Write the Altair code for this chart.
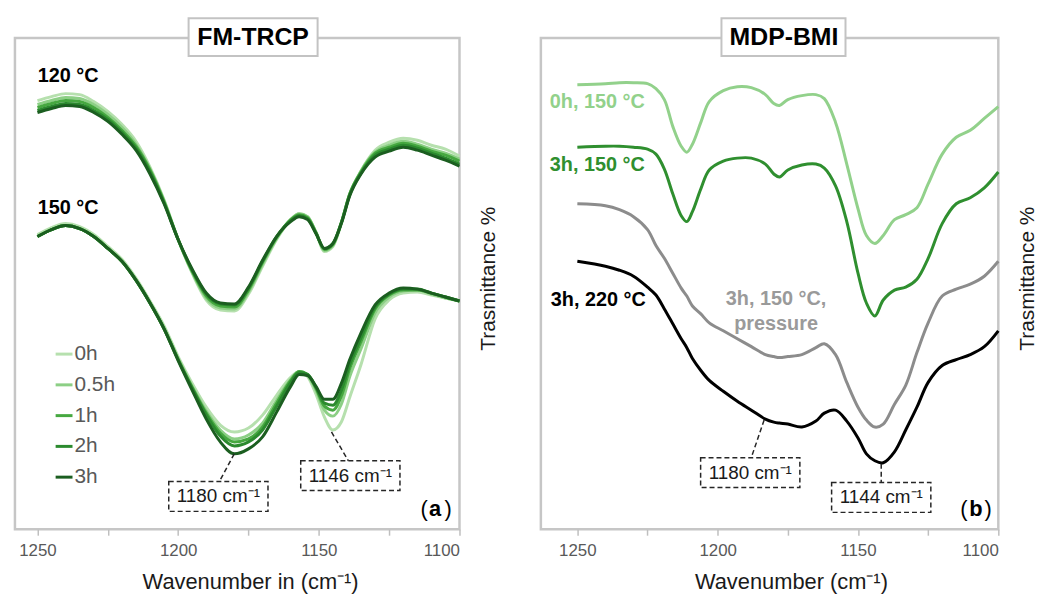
import altair as alt
import pandas as pd

FONT = "Liberation Sans"

# ---------------- panel (a) FM-TRCP ----------------
TIMES = ["0h", "0.5h", "1h", "2h", "3h"]
TIME_COLORS = ["#b6e0ae", "#8ccf85", "#46a840", "#2b8a2e", "#1b5e20"]

WN_A = [1250, 1245, 1240, 1235, 1230, 1225, 1220, 1215, 1210, 1205,
        1200, 1195, 1190, 1185, 1180, 1175, 1170, 1165, 1160, 1157,
        1154, 1151, 1148, 1145, 1142, 1139, 1135, 1130, 1125, 1120,
        1115, 1110, 1105, 1100]

T120_0H = [432, 436, 439, 438, 431, 421, 408, 391, 365, 332, 292, 258, 231, 221, 220, 237, 265, 292, 312, 318,
           315, 299, 280, 285, 308, 337, 361, 382, 390, 394, 392, 387, 383, 376]
T120_05H = [428, 432, 435, 434, 428, 418, 405, 388, 363, 331, 292, 259, 233, 223, 222, 239, 267, 293, 312, 318,
            315, 299, 281, 286, 309, 338, 361, 380, 387, 391, 388, 383, 379, 373]
T120_1H = [425, 429, 432, 431, 425, 415, 402, 386, 362, 330, 292, 260, 235, 225, 224, 241, 269, 294, 312, 317,
           314, 299, 282, 287, 309, 338, 360, 379, 385, 389, 386, 381, 377, 371]
T120_2H = [422, 426, 429, 428, 422, 413, 400, 384, 360, 329, 292, 261, 237, 227, 226, 243, 270, 295, 311, 316,
           313, 298, 283, 288, 309, 337, 359, 377, 383, 387, 384, 379, 374, 368]
T120_3H = [420, 424, 427, 426, 420, 411, 398, 382, 358, 328, 292, 262, 238, 228, 227, 244, 271, 295, 310, 315,
           312, 298, 283, 288, 308, 336, 358, 375, 381, 385, 382, 377, 372, 366]

T150_0H = [297, 304, 308, 305, 297, 285, 272, 253, 230, 205, 174, 147, 123, 105, 98, 102, 115, 135, 153, 159,
           154, 136, 113, 100, 108, 133, 166, 212, 231, 238, 239, 236, 233, 230]
T150_05H = [295, 302, 306, 303, 295, 283, 270, 251, 228, 203, 172, 144, 119, 100, 91, 95, 107, 130, 151, 159,
            155, 140, 120, 114, 126, 154, 182, 218, 234, 240, 241, 237, 233, 230]
T150_1H = [295, 302, 306, 303, 295, 283, 270, 251, 228, 202, 171, 143, 117, 97, 88, 91, 103, 127, 150, 159,
           156, 142, 124, 120, 134, 162, 189, 222, 236, 241, 241, 238, 234, 230]
T150_2H = [295, 302, 306, 303, 295, 283, 270, 251, 228, 202, 171, 142, 115, 94, 84, 88, 100, 124, 148, 158,
           156, 143, 127, 125, 140, 166, 193, 224, 237, 242, 242, 238, 234, 230]
T150_3H = [295, 302, 306, 303, 295, 283, 270, 251, 228, 202, 170, 140, 111, 88, 76, 81, 93, 118, 144, 156,
           155, 144, 131, 131, 147, 171, 198, 226, 238, 243, 242, 238, 234, 230]

# ---------------- panel (b) MDP-BMI ----------------
SERIES_B = ["0h, 150 °C", "3h, 150 °C", "3h, 150 °C, pressure", "3h, 220 °C"]
COLORS_B = ["#92d18b", "#2f8f2f", "#8c8c8c", "#000000"]

WN_B = [1250, 1240, 1235, 1230, 1225, 1222, 1219, 1216, 1213, 1211,
        1209, 1206, 1203, 1198, 1193, 1188, 1183, 1180, 1178, 1175,
        1170, 1165, 1162, 1158, 1154, 1150, 1147, 1144, 1141, 1137,
        1133, 1129, 1125, 1120, 1115, 1110, 1105, 1100]

B_0H150 = [448, 449, 450, 450, 449, 444, 433, 406, 386, 380, 388, 410, 431, 442, 446, 445, 438, 429, 427, 433,
           437, 438, 434, 410, 368, 323, 296, 288, 296, 312, 317, 324, 348, 378, 395, 402, 414, 426]
B_3H150 = [385, 386, 386, 385, 383, 378, 363, 338, 316, 310, 320, 343, 362, 371, 374, 374, 368, 358, 355, 362,
           367, 368, 364, 346, 310, 258, 228, 215, 231, 241, 244, 252, 273, 308, 328, 334, 344, 360]
B_PRESS = [328, 326, 322, 315, 302, 286, 273, 258, 243, 235, 225, 217, 208, 200, 192, 184, 176, 174, 173, 174,
           176, 183, 187, 176, 148, 123, 110, 103, 106, 126, 145, 178, 208, 235, 242, 247, 255, 270]
B_220 = [270, 265, 261, 255, 244, 236, 222, 207, 192, 183, 172, 160, 150, 139, 129, 120, 111, 108, 107, 106,
         103, 109, 117, 120, 109, 92, 76, 69, 67, 78, 100, 123, 148, 165, 171, 176, 184, 200]

# ---------------- tables ----------------
rows_a = []
series_a = [
    ("0h", T120_0H, T150_0H), ("0.5h", T120_05H, T150_05H), ("1h", T120_1H, T150_1H),
    ("2h", T120_2H, T150_2H), ("3h", T120_3H, T150_3H),
]
for t, s120, s150 in series_a:
    for w, v in zip(WN_A, s120):
        rows_a.append({"wn": w, "T": v, "time": t, "grp": t + "_120"})
    for w, v in zip(WN_A, s150):
        rows_a.append({"wn": w, "T": v, "time": t, "grp": t + "_150"})
df_a = pd.DataFrame(rows_a)

rows_b = []
for name, vals in zip(SERIES_B, [B_0H150, B_3H150, B_PRESS, B_220]):
    for w, v in zip(WN_B, vals):
        rows_b.append({"wn": w, "T": v, "series": name})
df_b = pd.DataFrame(rows_b)

one = alt.Data(values=[{"k": 1}])
TICKS = [1250, 1225, 1200, 1175, 1150, 1125, 1100]


def x_enc(domain_max, title, title_x):
    return alt.X(
        "wn:Q",
        scale=alt.Scale(domain=[1100, domain_max], reverse=True, nice=False, zero=False),
        axis=alt.Axis(
            values=TICKS, format="d", labelExpr="datum.value % 50 == 0 ? datum.label : ''",
            domain=False, grid=False, tickColor="#bfbfbf", tickSize=6, tickWidth=1.5,
            labelFontSize=17, labelColor="#595959", labelFont=FONT, labelPadding=7,
            title=title, titleFontSize=22, titleFont=FONT, titleFontWeight="normal",
            titleColor="#1a1a1a", titleX=title_x, titleY=53, titleAlign="center",
            titleBaseline="middle",
        ),
    )


def y_enc():
    return alt.Y(
        "T:Q",
        scale=alt.Scale(domain=[0, 495], nice=False, zero=False),
        axis=alt.Axis(
            orient="right", labels=False, ticks=False, domain=False, grid=False,
            title="Trasmittance %", titleFontSize=21, titleFont=FONT, titleFontWeight="normal",
            titleColor="#1a1a1a", titleAngle=270, titleX=29, titleY=242,
            titleAlign="center", titleBaseline="middle",
        ),
    )


def txt(text, x, y, size=20, color="#000000", weight="normal", align="center"):
    return alt.Chart(one).mark_text(
        text=text, fontSize=size, color=color, fontWeight=weight, align=align,
        baseline="middle", font=FONT,
    ).encode(x=alt.value(x), y=alt.value(y))


def box(x1, x2, y1, y2, dashed=True):
    if dashed:
        return alt.Chart(one).mark_rect(
            filled=False, stroke="#262626", strokeWidth=1.5, strokeDash=[5, 3]
        ).encode(x=alt.value(x1), x2=alt.value(x2), y=alt.value(y1), y2=alt.value(y2))
    return alt.Chart(one).mark_rect(
        fill="white", stroke="#c3c3c3", strokeWidth=2
    ).encode(x=alt.value(x1), x2=alt.value(x2), y=alt.value(y1), y2=alt.value(y2))


def link(x1, y1, x2, y2):
    return alt.Chart(one).mark_rule(
        stroke="#262626", strokeWidth=1.5, strokeDash=[5, 3]
    ).encode(x=alt.value(x1), y=alt.value(y1), x2=alt.value(x2), y2=alt.value(y2))


lines_a = alt.Chart(df_a).mark_line(strokeWidth=3, interpolate="monotone").encode(
    x=x_enc(1258, "Wavenumber in (cm⁻¹)", 237),
    y=y_enc(),
    color=alt.Color(
        "time:N",
        scale=alt.Scale(domain=TIMES, range=TIME_COLORS),
        legend=alt.Legend(
            orient="none", legendX=39, legendY=308, title=None, symbolType="stroke",
            symbolStrokeWidth=3, symbolSize=289, labelFontSize=21, labelColor="#595959",
            labelFont=FONT, rowPadding=9, labelOffset=0, padding=0,
        ),
        sort=TIMES,
    ),
    detail="grp:N",
)

panel_a = alt.layer(
    lines_a,
    box(175, 305, -20, 18, dashed=False),
    txt("FM-TRCP", 240, -1, size=25, weight="bold"),
    txt("120 °C", 23, 38, weight="bold", align="left"),
    txt("150 °C", 23, 171, weight="bold", align="left"),
    link(221, 419, 206, 447),
    box(155, 255, 447, 477),
    txt("1180 cm⁻¹", 205, 462, size=19, color="#1a1a1a"),
    link(319, 397, 336, 426),
    box(288, 388, 426, 456),
    txt("1146 cm⁻¹", 338, 441, size=19, color="#1a1a1a"),
    txt("(", 416, 475, size=22, align="right"),
    txt("a", 423.5, 475, size=22, weight="bold"),
    txt(")", 433, 475, size=22, align="left"),
).properties(width=448, height=495)

lines_b = alt.Chart(df_b).mark_line(strokeWidth=3, interpolate="catmull-rom").encode(
    x=x_enc(1263, "Wavenumber (cm⁻¹)", 252),
    y=y_enc(),
    color=alt.Color("series:N", scale=alt.Scale(domain=SERIES_B, range=COLORS_B), legend=None),
)

panel_b = alt.layer(
    lines_b,
    box(182, 307, -20, 18, dashed=False),
    txt("MDP-BMI", 245, -1, size=25, weight="bold"),
    txt("0h, 150 °C", 9, 64, color="#92d18b", weight="bold", align="left"),
    txt("3h, 150 °C", 9, 128, color="#2f8f2f", weight="bold", align="left"),
    txt("3h, 220 °C", 10, 264, color="#000000", weight="bold", align="left"),
    txt("3h, 150 °C,", 237, 263, color="#9a9a9a", weight="bold"),
    txt("pressure", 237, 288, color="#9a9a9a", weight="bold"),
    link(225, 385, 212, 423),
    box(161, 261, 423, 453),
    txt("1180 cm⁻¹", 211, 438, size=19, color="#1a1a1a"),
    link(343, 429, 343, 448),
    box(293, 393, 448, 478),
    txt("1144 cm⁻¹", 343, 463, size=19, color="#1a1a1a"),
    txt("(", 430, 475, size=22, align="right"),
    txt("b", 438.5, 475, size=22, weight="bold"),
    txt(")", 447, 475, size=22, align="left"),
).properties(width=461, height=495)

chart = alt.hconcat(panel_a, panel_b, spacing=39).resolve_scale(
    color="independent"
).resolve_legend(color="independent").configure(
    padding={"left": 5, "top": 5, "right": 0, "bottom": 0},
    font=FONT,
).configure_view(
    stroke="#c6c6c6", strokeWidth=2.5
)

chart.save("out.html", embed_options={"renderer": "svg", "actions": False})
